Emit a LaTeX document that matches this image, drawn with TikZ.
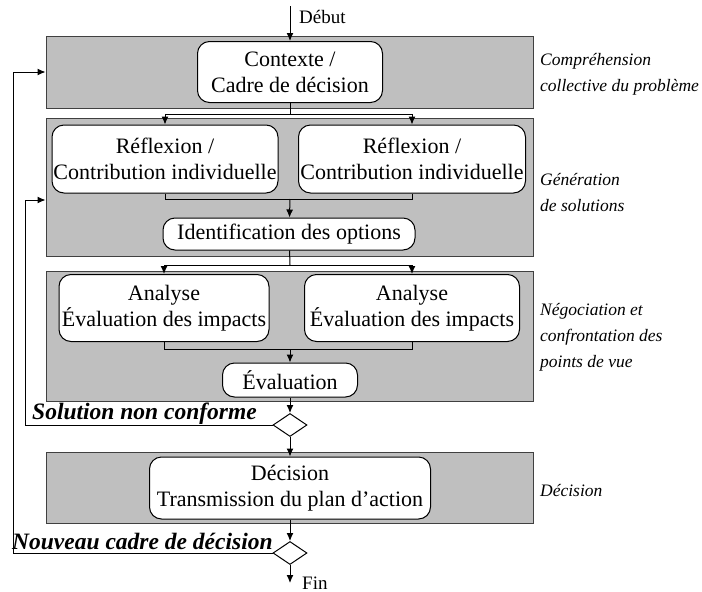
\documentclass[tikz,border=0pt]{standalone}
\usepackage{fontspec}
\setmainfont{Liberation Serif}
\usetikzlibrary{shapes.geometric,arrows.meta}

\tikzset{
    panel/.style={draw=black!75, fill=black!25, line width=1pt, minimum width=487pt, inner sep=0pt},
    stepbox/.style={draw, fill=white, rounded corners=12pt, line width=1pt, align=center,
        inner sep=0pt, font=\fontsize{22}{26}\selectfont},
    phase/.style={anchor=west, align=left, inner sep=0pt, font=\fontsize{17.5}{26}\selectfont\itshape},
    verdict/.style={anchor=base west, inner sep=0pt, font=\fontsize{23.5}{26}\selectfont\bfseries\itshape},
    test/.style={draw, diamond, fill=white, line width=1pt, minimum width=34pt, minimum height=23pt, inner sep=0pt},
    flow/.style={line width=1pt, -{Latex[length=8pt,width=7pt]}},
    plain/.style={line width=1pt},
}

\begin{document}
\begin{tikzpicture}[x=1pt, y=-1pt]
    \useasboundingbox (0,0) rectangle (702,592);

    % grey bands, one per phase
    \node [panel, minimum height=72pt]  (p1) at (289.5,72)    {};
    \node [panel, minimum height=138pt] (p2) at (289.5,187)   {};
    \node [panel, minimum height=130pt] (p3) at (289.5,336)   {};
    \node [panel, minimum height=71pt]  (p4) at (289.5,487.5) {};

    % steps
    \node [stepbox, minimum width=185pt, minimum height=61pt] (ctx) at (290,72)
        {Contexte /\\Cadre de décision};
    \node [stepbox, minimum width=226pt, minimum height=68pt] (refl1) at (165,159)
        {Réflexion /\\Contribution individuelle};
    \node [stepbox, minimum width=227pt, minimum height=68pt] (refl2) at (412,159)
        {Réflexion /\\Contribution individuelle};
    \node [stepbox, minimum width=252pt, minimum height=32pt] (ident) at (289,234)
        {Identification des options};
    \node [stepbox, minimum width=210pt, minimum height=67pt] (ana1) at (164,308)
        {Analyse\\Évaluation des impacts};
    \node [stepbox, minimum width=215pt, minimum height=67pt] (ana2) at (412,308)
        {Analyse\\Évaluation des impacts};
    \node [stepbox, minimum width=135pt, minimum height=34pt] (eval) at (290,380)
        {Évaluation};
    \node [stepbox, minimum width=281pt, minimum height=62pt] (dec) at (290,488)
        {Décision\\Transmission du plan d’action};

    % tests
    \node [test] (d1) at (290,425) {};
    \node [test] (d2) at (290,553) {};

    % phase names on the right
    \node [phase] (ph1) at (540,74)  {Compréhension\\collective du problème};
    \node [phase] (ph2) at (540,193) {Génération\\de solutions};
    \node [phase] (ph3) at (540,337) {Négociation et\\confrontation des\\points de vue};
    \node [phase] (ph4) at (540,490) {Décision};

    % start and end
    \coordinate (start) at (290,6);
    \coordinate (stop)  at (290,583);
    \node [anchor=west, inner sep=0pt, font=\fontsize{19}{22}\selectfont] (tstart) at (299,17) {Début};
    \node [anchor=west, inner sep=0pt, font=\fontsize{19}{22}\selectfont] (tstop)  at (302,583) {Fin};

    % split and merge points
    \coordinate (s1) at (290,114);
    \coordinate (m1) at (290,199);
    \coordinate (s2) at (290,265);
    \coordinate (m2) at (290,349);

    % loop-back corners
    \coordinate (back1) at (13,72);
    \coordinate (back2) at (25,200);

    \draw [flow] (start) -- (ctx);                  % Début
    \draw [plain] (ctx) -- (s1);                    % split to both reflections
    \draw [flow] (s1) -| (refl1);
    \draw [flow] (s1) -| (refl2);
    \draw [plain] (refl1) |- (m1);                  % merge the reflections
    \draw [plain] (refl2) |- (m1);
    \draw [flow] (m1) -- (ident);

    \draw [plain] (ident) -- (s2);                  % split to both analyses
    \draw [flow] (s2) -| (ana1);
    \draw [flow] (s2) -| (ana2);
    \draw [plain] (ana1) |- (m2);                   % merge the analyses
    \draw [plain] (ana2) |- (m2);
    \draw [flow] (m2) -- (eval);

    \draw [flow] (eval) -- (d1);
    \draw [flow] (d1) -- (dec);
    \draw [flow] (dec) -- (d2);
    \draw [flow] (d2) -- (stop);

    \draw [flow] (d1) -| (back2) -- (back2 -| p2.west);   % back to solutions
    \draw [flow] (d2) -| (back1) -- (back1 -| p1.west);   % back to context

    \node [verdict] (v1) at (32,419) {Solution non conforme};
    \node [verdict] (v2) at (12,549) {Nouveau cadre de décision};
\end{tikzpicture}
\end{document}
